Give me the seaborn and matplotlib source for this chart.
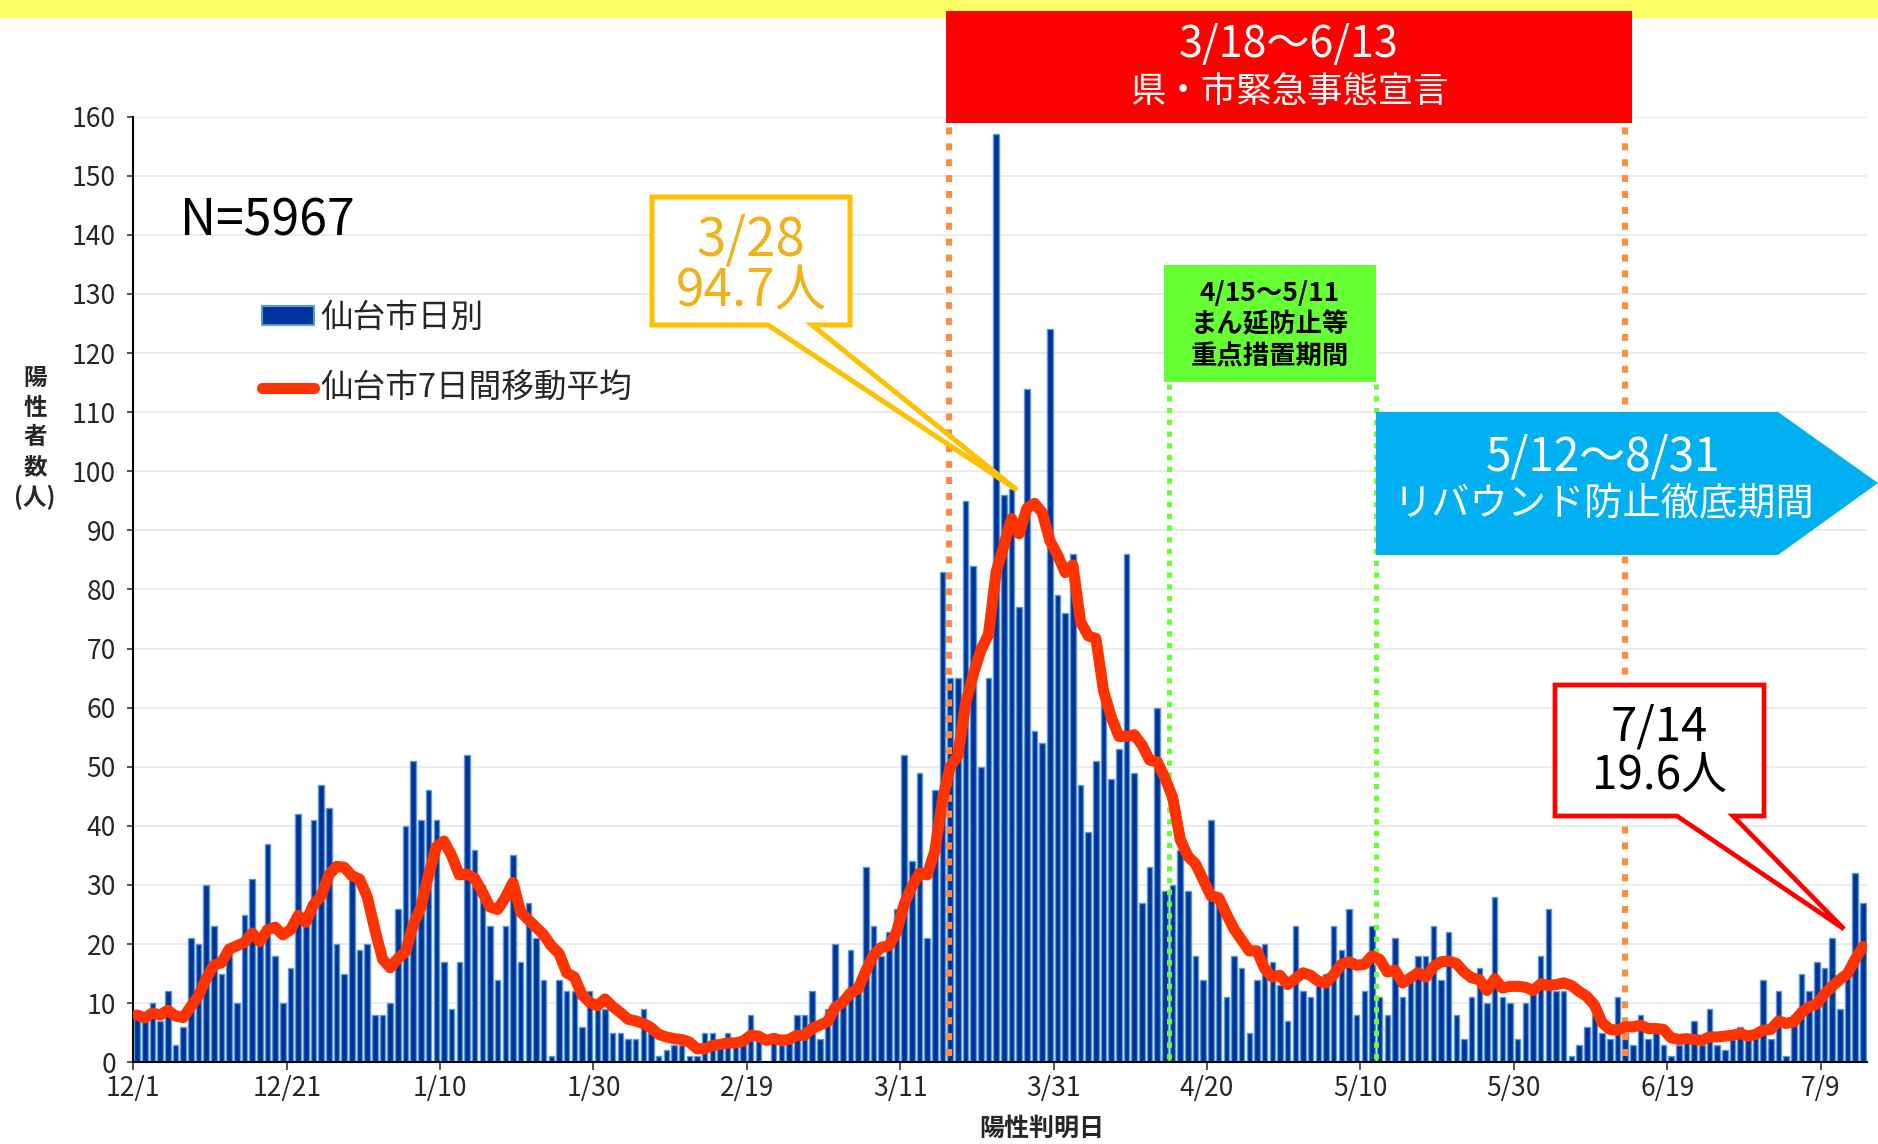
import numpy as np
import pandas as pd
import matplotlib
matplotlib.use("Agg")
import matplotlib.pyplot as plt
import seaborn as sns
from matplotlib.patches import Rectangle, Polygon, Patch
from matplotlib.lines import Line2D

# daily positives, Sendai, 12/1 .. 7/14
dec = [8, 7, 10, 7, 12, 3, 6, 21, 20, 30, 23, 15, 19, 10, 25, 31, 20, 37, 18, 10,
       16, 42, 23, 41, 47, 43, 20, 15, 32, 19, 20]
jan = [8, 8, 10, 26, 40, 51, 41, 46, 41, 17, 9, 17, 52, 36, 30, 23, 14, 23, 35, 17,
       27, 21, 14, 1, 14, 12, 12, 6, 12, 10, 9]
feb = [5, 5, 4, 4, 9, 5, 1, 2, 3, 3, 1, 1, 5, 5, 3, 5, 3, 3, 8, 4,
       0, 5, 3, 4, 8, 8, 12, 4]
mar = [9, 20, 10, 19, 13, 33, 23, 18, 22, 26, 52, 34, 49, 21, 46, 83, 65, 65, 95, 84,
       50, 65, 157, 96, 97, 77, 114, 56, 54, 124, 79]
apr = [76, 86, 47, 39, 51, 62, 48, 53, 86, 49, 27, 33, 60, 29, 30, 36, 29, 18, 14, 41,
       27, 11, 18, 16, 5, 14, 20, 17, 13, 7]
may = [23, 12, 11, 13, 15, 23, 19, 26, 8, 12, 23, 11, 8, 21, 11, 14, 18, 18, 23, 14,
       22, 8, 4, 11, 16, 10, 28, 11, 10, 4, 10]
jun = [12, 18, 26, 12, 12, 1, 3, 6, 8, 5, 4, 11, 5, 3, 8, 4, 5, 3, 1, 3,
       4, 7, 3, 9, 3, 2, 4, 6, 4, 5]
jul = [14, 4, 12, 1, 8, 15, 12, 17, 16, 21, 9, 15, 32, 27]

tick_labels = ["12/1", "12/21", "1/10", "1/30", "2/19", "3/11", "3/31",
               "4/20", "5/10", "5/30", "6/19", "7/9"]

daily = dec + jan + feb + mar + apr + may + jun + jul
days = np.arange(len(daily))
moving_avg = pd.Series(daily).rolling(7, min_periods=1).mean()

W, H = 1878, 1144
sns.set_style("white")
plt.rcParams["font.family"] = ["Noto Sans CJK JP", "DejaVu Sans"]

fig = plt.figure(figsize=(W / 100, H / 100), dpi=100)
ax = fig.add_axes([133.3 / W, 1 - 1062.3 / H, 1733.4 / W, 945.6 / H])

sns.barplot(x=days, y=daily, ax=ax, width=0.72, color="#003399", saturation=1,
            edgecolor="#5B9BD5", linewidth=1.0, zorder=2)

# period markers
ax.vlines([105.9, 194.0], 1, 159, colors="#FF8C42", linewidth=4.4,
          linestyles=(0, (1.15, 1.45)), zorder=3)
ax.vlines([134.5, 161.5], 0.5, 115, colors="#66FF33", linewidth=3.6,
          linestyles=(0, (1.05, 1.3)), zorder=3)

sns.lineplot(x=days, y=moving_avg, ax=ax, color="#FF3300", linewidth=8,
             solid_capstyle="round", solid_joinstyle="round", zorder=4)

ax.set_xlim(-0.5, len(daily) - 0.5)
ax.set_ylim(0, 160)
ax.set_yticks(np.arange(0, 161, 10))
ax.set_xticks(np.arange(0, len(daily), 20) - 0.5)
ax.set_xticklabels(tick_labels)
ax.yaxis.grid(True, color="#E8E8E8", linewidth=1.2, zorder=0)
ax.set_axisbelow(True)
for s in ["top", "right"]:
    ax.spines[s].set_visible(False)
for s in ["left", "bottom"]:
    ax.spines[s].set_color("black")
    ax.spines[s].set_linewidth(1.5)
ax.tick_params(axis="y", direction="out", length=4.5, width=1.1, pad=8,
               labelsize=19, left=True)
ax.tick_params(axis="x", direction="out", length=5.5, width=1.1, pad=4,
               labelsize=19, bottom=True)

ax.set_xlabel("陽性判明日", fontsize=18, fontweight="bold", va="center")
ax.xaxis.set_label_coords(0.524, -0.0705)
ax.set_ylabel("陽\n性\n者\n数\n(人)", fontsize=17, fontweight="bold",
              rotation=0, ha="center", va="center", linespacing=1.3)
ax.yaxis.set_label_coords(-0.0567, 0.66)

handles = [Patch(facecolor="#003399", edgecolor="#5B9BD5", linewidth=1.5),
           Line2D([], [], color="#FF3300", linewidth=8, solid_capstyle="round")]
ax.legend(handles, ["仙台市日別", "仙台市7日間移動平均"], loc="upper left",
          bbox_to_anchor=(262 / W, 1 - 302 / H), bbox_transform=fig.transFigure,
          frameon=False, fontsize=23.5, handlelength=1.6, handleheight=0.5,
          handletextpad=0.2, labelspacing=1.2, borderpad=0, borderaxespad=0)

# overlay in pixel coordinates for boxes and callouts
ov = fig.add_axes([0, 0, 1, 1], zorder=5)
ov.set_xlim(0, W)
ov.set_ylim(H, 0)
ov.axis("off")

ov.add_patch(Rectangle((0, 0), W, 18, facecolor="#FFFF66", edgecolor="none"))

ov.add_patch(Rectangle((946, 11), 686, 112, facecolor="#FF0000", edgecolor="none"))
ov.text(1289, 45, "3/18～6/13", color="white", fontsize=31, ha="center", va="center")
ov.text(1289, 92, "県・市緊急事態宣言", color="white", fontsize=25.5, ha="center", va="center")

ov.add_patch(Rectangle((1164, 265), 212, 117, facecolor="#66FF33", edgecolor="none"))
for y, s in [(293, "4/15～5/11"), (325, "まん延防止等"), (357, "重点措置期間")]:
    ov.text(1270, y, s, color="black", fontsize=19, fontweight="bold",
            ha="center", va="center")

ov.add_patch(Polygon([(1376, 412), (1778, 412), (1878, 483), (1778, 555), (1376, 555)],
                     closed=True, facecolor="#00B0F0", edgecolor="none"))
ov.text(1603, 457, "5/12～8/31", color="white", fontsize=33, ha="center", va="center")
ov.text(1604, 505, "リバウンド防止徹底期間", color="white", fontsize=27.5,
        ha="center", va="center")

ov.add_patch(Polygon([(652, 197), (850, 197), (850, 325), (812, 325), (1017, 490),
                      (768, 325), (652, 325)], closed=True, facecolor="white",
                     edgecolor="#FFC000", linewidth=3.6, joinstyle="miter"))
ov.text(751, 240, "3/28", color="#EDB21C", fontsize=38, ha="center", va="center")
ov.text(751, 292, "94.7人", color="#EDB21C", fontsize=37, ha="center", va="center")

ov.add_patch(Polygon([(1555, 685), (1764, 685), (1764, 816), (1733, 816), (1844, 929),
                      (1677, 816), (1555, 816)], closed=True, facecolor="white",
                     edgecolor="#FF0000", linewidth=3.4, joinstyle="miter"))
ov.text(1659, 727, "7/14", color="black", fontsize=34, ha="center", va="center")
ov.text(1659, 776, "19.6人", color="black", fontsize=33, ha="center", va="center")

ov.text(180, 221, "N=5967", color="black", fontsize=36, ha="left", va="center")

fig.savefig("out.png", dpi=100, facecolor="white")
